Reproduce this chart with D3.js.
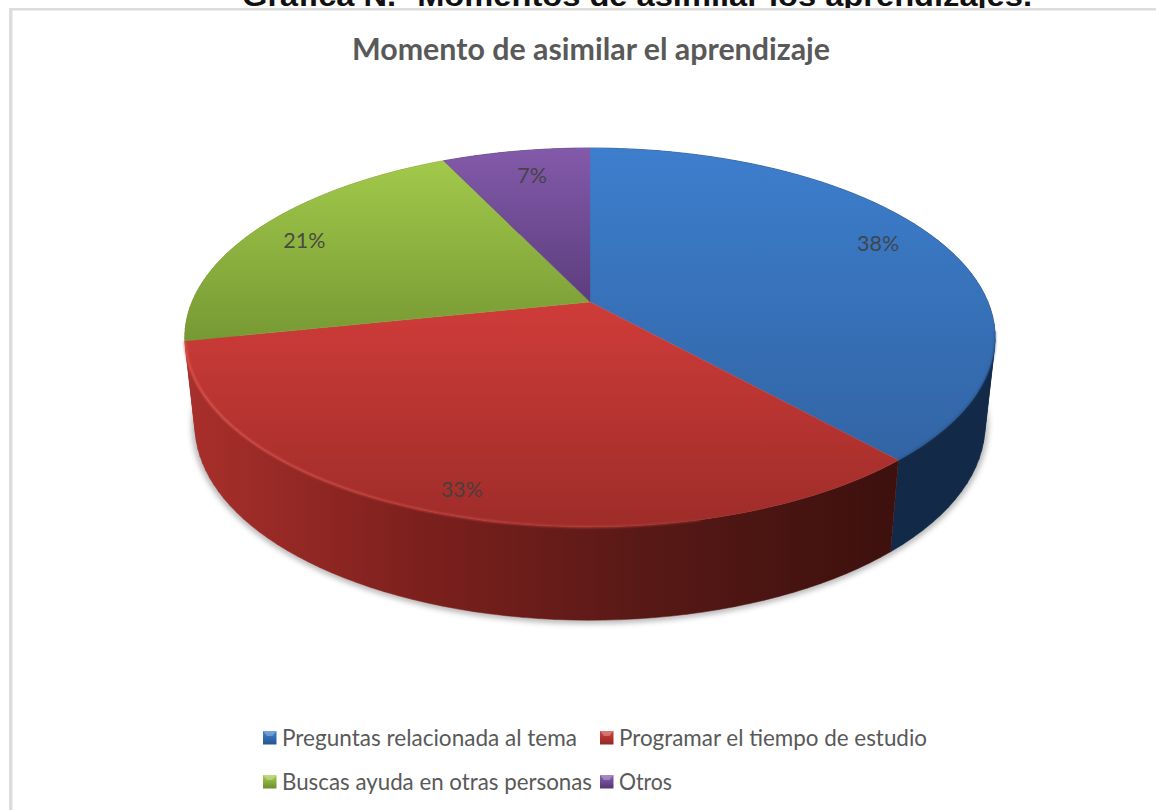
<!DOCTYPE html>
<html><head><meta charset="utf-8">
<script src="https://cdnjs.cloudflare.com/ajax/libs/d3/7.8.5/d3.min.js"></script>
<style>html,body{margin:0;padding:0;background:#fff;overflow:hidden}svg{display:block}</style>
</head><body><svg id="c" width="1156" height="810"></svg>
<script>
const categories = ["Preguntas relacionada al tema","Programar el tiempo de estudio","Buscas ayuda en otras personas","Otros"];
const values = [38,33,21,7];
const valueLabels = ["38%","33%","21%","7%"];
const chartTitle = "Momento de asimilar el aprendizaje";
const pageHeading = "Gráfica N.º  Momentos de asimilar los aprendizajes.";
const topStops = [["#3d7ecd","#2f5f9c"],["#cf3c39","#9e2c29"],["#a2c94b","#769833"],["#835aaa","#5c3d7d"]];
const wallStops = [["#14304f","#122a48"],["#a82f2b","#7d201d","#581916","#3f110e"],["#6f8c2e","#5c7526"],["#4c3068","#3e2756"]];
const swatchStops = [["#3f80d0","#25548f"],["#d2413d","#8f2825"],["#a9d04f","#6a8a2c"],["#8a60b2","#503572"]];

const svg = d3.select("#c");
const defs = svg.append("defs");
const Cx=590, K=-0.187;
const topPlane={cy:302,b:182.8,w:398}, basePlane={cy:389,b:188,w:388};
const project=(pl,r,t)=>{const X=r*Math.sin(t),Y=-r*Math.cos(t),w=1+K*Y;return [Cx+pl.w*X/w,pl.cy+pl.b*Y/w];};
const arcs=d3.pie().sort(null).value(d=>d)(values);
const line=d3.line();
const steps=(a,b)=>d3.range(0,61).map(i=>a+(b-a)*i/60);
const rim=(pl,a,b)=>steps(a,b).map(t=>project(pl,1,t));

const blur=(id,s)=>defs.append("filter").attr("id",id).attr("x","-10%").attr("y","-10%").attr("width","120%").attr("height","120%")
  .attr("color-interpolation-filters","sRGB").append("feGaussianBlur").attr("stdDeviation",s);
blur("sh",3); blur("soft",0.7); blur("rimb",0.9);
const grad=(id,c,x1,y1,x2,y2)=>{const g=defs.append("linearGradient").attr("id",id).attr("gradientUnits","userSpaceOnUse").attr("x1",x1).attr("y1",y1).attr("x2",x2).attr("y2",y2);
 c.forEach((col,i)=>g.append("stop").attr("offset",i/(c.length-1)).attr("stop-color",col));};
const tops=[148,302,160,148], bots=[527,527,344,302];
arcs.forEach((a,i)=>{
  grad("top"+i,topStops[i],0,tops[i],0,bots[i]);
  grad("wall"+i,wallStops[i],190,0,870,0);
});

// border + clipped page heading
svg.append("text").attr("x",637).attr("y",6).attr("text-anchor","middle")
  .attr("font-family","Liberation Sans").attr("font-weight","bold").attr("font-size",29)
  .attr("textLength",790).attr("lengthAdjust","spacingAndGlyphs").attr("fill","#111").text(pageHeading);
svg.append("rect").attr("x",0).attr("y",8).attr("width",1156).attr("height",802).attr("fill","#fff");
svg.append("rect").attr("x",9).attr("y",8).attr("width",1147).attr("height",2.5).attr("fill","#dcdcdc");
svg.append("rect").attr("x",9).attr("y",8).attr("width",3.5).attr("height",802).attr("fill","#dcdcdc");

// title
svg.append("text").attr("x",591).attr("y",60).attr("text-anchor","middle")
  .attr("font-family","Lato").attr("font-weight","bold").attr("font-size",30)
  .attr("textLength",478).attr("lengthAdjust","spacingAndGlyphs").attr("fill","#595959").text(chartTitle);

// shadow under the disc
svg.append("path").attr("d",line(rim(basePlane,Math.PI*0.42,Math.PI*1.48)))
  .attr("fill","none").attr("stroke","#555").attr("stroke-width",4).attr("opacity",0.75).attr("filter","url(#sh)");

const pie=svg.append("g");
// walls: one consistently wound quad per angular step, so folded parts of the strip do not cancel out
const wallG=pie.append("g").attr("filter","url(#soft)");
[2,3,0,1].forEach(i=>{const a=arcs[i];
  const ts=steps(a.startAngle,a.endAngle);
  const d=d3.pairs(ts).map(([t0,t1])=>{
    const q=[project(topPlane,1,t0),project(topPlane,1,t1),project(basePlane,1,t1),project(basePlane,1,t0)];
    if(d3.polygonArea(q)<0) q.reverse();
    return line(q)+"Z";
  }).join("");
  wallG.append("path").attr("d",d).attr("fill",`url(#wall${i})`).attr("stroke",`url(#wall${i})`).attr("stroke-width",0.5);
});
// top faces
arcs.forEach((a,i)=>{
  const pts=[project(topPlane,0,0)].concat(rim(topPlane,a.startAngle,a.endAngle));
  pie.append("path").attr("d",line(pts)+"Z").attr("fill",`url(#top${i})`).attr("stroke",`url(#top${i})`).attr("stroke-width",0.4);
});
// rim highlight on the red slice
grad("rimg",["#e8605a","#d04a45","#b8403b","#8f2a27"],190,0,800,0);
pie.append("path").attr("d",line(rim(topPlane,arcs[1].startAngle+0.5,arcs[1].endAngle)))
  .attr("fill","none").attr("stroke","url(#rimg)").attr("stroke-width",1.6).attr("filter","url(#rimb)");
pie.append("path").attr("d",line(rim(topPlane,Math.PI*0.55,arcs[0].endAngle)))
  .attr("fill","none").attr("stroke","#1d3f6b").attr("stroke-width",1.6).attr("opacity",0.6).attr("filter","url(#rimb)");

// data labels
const labelRadius=[0.85,0.907,0.845,0.81];
const labelNudge=[[-11,-6],[6,0],[-4,3],[4,0]];
arcs.forEach((a,i)=>{
  const p=project(topPlane,labelRadius[i],(a.startAngle+a.endAngle)/2);
  svg.append("text").attr("x",p[0]+labelNudge[i][0]).attr("y",p[1]+labelNudge[i][1]+7).attr("text-anchor","middle")
   .attr("font-family","Lato").attr("font-size",21.5).attr("fill","#404040").attr("fill-opacity",0.92).text(valueLabels[i]);
});

// legend
const legendX=d3.scalePoint().domain([0,1]).range([263,600]);
const legendY=d3.scalePoint().domain([0,1]).range([738,782]);
const legendW=[295,308,310,53];
categories.forEach((c,i)=>{
  const x=legendX(i%2), y=legendY(Math.floor(i/2));
  grad("sw"+i,swatchStops[i],0,y-7,0,y+7);
  svg.append("rect").attr("x",x).attr("y",y-7).attr("width",13.5).attr("height",13.5).attr("fill",`url(#sw${i})`);
  svg.append("path").attr("d",line([[x,y-7],[x+13.5,y-7],[x+9.5,y-2],[x+4,y-2]])+"Z").attr("fill","#fff").attr("opacity",0.28);
  svg.append("text").attr("x",x+19).attr("y",y+7.5).attr("font-family","Lato").attr("font-size",22.5)
    .attr("textLength",legendW[i]).attr("lengthAdjust","spacingAndGlyphs").attr("fill","#595959").text(c);
});
</script></body></html>
